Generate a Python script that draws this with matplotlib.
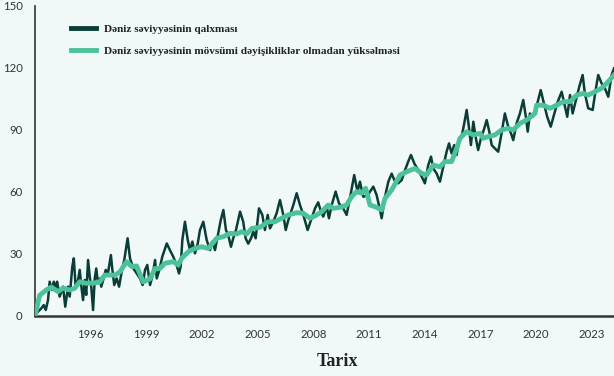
import matplotlib
matplotlib.use("Agg")
import matplotlib.pyplot as plt

# -------------------------- Data --------------------------
# sea level rise, mm (decimal year, value)
raw_years = [
    1993.00, 1993.07, 1993.34, 1993.47, 1993.58, 1993.70, 1993.79, 1993.92, 1994.01, 1994.12,
    1994.19, 1994.33, 1994.51, 1994.63, 1994.78, 1994.87, 1995.01, 1995.09, 1995.19, 1995.32,
    1995.41, 1995.49, 1995.59, 1995.68, 1995.76, 1995.86, 1995.95, 1996.03, 1996.13, 1996.22,
    1996.30, 1996.39, 1996.49, 1996.57, 1996.70, 1996.81, 1996.93, 1997.09, 1997.16, 1997.27,
    1997.40, 1997.53, 1997.67, 1997.81, 1997.99, 1998.12, 1998.30, 1998.48, 1998.66, 1998.80,
    1998.93, 1999.05, 1999.20, 1999.34, 1999.47, 1999.56, 1999.70, 1999.86, 2000.10, 2000.27,
    2000.45, 2000.63, 2000.76, 2000.85, 2000.94, 2001.08, 2001.23, 2001.35, 2001.48, 2001.62,
    2001.77, 2001.89, 2002.07, 2002.25, 2002.43, 2002.55, 2002.70, 2002.84, 2003.01, 2003.15,
    2003.29, 2003.41, 2003.56, 2003.68, 2003.83, 2004.05, 2004.22, 2004.35, 2004.49, 2004.64,
    2004.76, 2004.89, 2005.07, 2005.25, 2005.39, 2005.54, 2005.66, 2005.84, 2006.02, 2006.20,
    2006.38, 2006.51, 2006.65, 2006.92, 2007.10, 2007.28, 2007.46, 2007.69, 2007.87, 2008.09,
    2008.26, 2008.41, 2008.53, 2008.72, 2008.84, 2008.99, 2009.20, 2009.38, 2009.61, 2009.79,
    2009.97, 2010.20, 2010.38, 2010.51, 2010.69, 2010.93, 2011.23, 2011.41, 2011.59, 2011.68,
    2011.86, 2012.04, 2012.22, 2012.36, 2012.57, 2012.76, 2012.94, 2013.11, 2013.26, 2013.44,
    2013.65, 2013.84, 2014.01, 2014.19, 2014.34, 2014.46, 2014.64, 2014.82, 2015.00, 2015.18,
    2015.31, 2015.45, 2015.59, 2015.72, 2015.84, 2015.99, 2016.13, 2016.26, 2016.38, 2016.49,
    2016.62, 2016.74, 2016.88, 2017.03, 2017.21, 2017.34, 2017.48, 2017.61, 2017.78, 2017.96,
    2018.14, 2018.32, 2018.50, 2018.65, 2018.77, 2018.95, 2019.13, 2019.31, 2019.45, 2019.55,
    2019.67, 2019.82, 2020.00, 2020.25, 2020.42, 2020.60, 2020.79, 2020.96, 2021.14, 2021.38,
    2021.56, 2021.68, 2021.83, 2021.97, 2022.15, 2022.33, 2022.51, 2022.63, 2022.81, 2023.05,
    2023.21, 2023.35, 2023.53, 2023.71, 2023.89, 2024.07, 2024.20,
]
raw_values = [
    0.0, 1.3, 3.7, 5.3, 2.9, 7.7, 16.6, 12.6, 16.6, 13.4,
    16.6, 9.4, 14.2, 4.5, 14.2, 9.4, 23.9, 27.9, 14.2, 17.4,
    22.3, 15.0, 7.7, 17.4, 10.2, 27.1, 19.0, 14.2, 2.9, 18.2,
    23.0, 15.8, 18.2, 14.2, 18.2, 22.3, 20.6, 29.5, 23.0, 15.0,
    18.2, 14.2, 21.4, 27.1, 37.6, 27.9, 23.0, 20.6, 18.2, 15.0,
    22.3, 24.7, 15.0, 19.8, 27.1, 18.2, 22.3, 28.7, 35.1, 31.9,
    28.7, 24.7, 20.6, 24.0, 36.8, 45.6, 36.8, 31.9, 36.0, 30.3,
    35.1, 41.6, 45.6, 36.8, 31.9, 36.0, 31.9, 38.4, 46.4, 51.3,
    41.6, 39.2, 33.5, 37.6, 41.6, 50.5, 45.6, 37.6, 35.0, 37.6,
    40.8, 37.6, 52.1, 48.9, 41.6, 48.9, 42.4, 45.6, 49.7, 56.1,
    48.9, 41.6, 46.4, 53.7, 59.4, 53.7, 48.9, 41.6, 46.4, 52.1,
    55.0, 50.5, 48.1, 52.9, 47.3, 53.7, 60.2, 54.5, 52.1, 48.9,
    56.9, 68.2, 60.2, 65.0, 57.7, 58.5, 62.6, 58.5, 51.3, 47.3,
    57.7, 65.0, 68.9, 65.8, 64.2, 65.8, 70.6, 74.7, 77.9, 73.8,
    70.6, 67.4, 64.2, 73.0, 77.1, 71.4, 69.0, 65.0, 72.2, 79.5,
    83.5, 78.7, 82.7, 77.9, 84.3, 86.8, 93.2, 99.7, 91.6, 82.7,
    94.0, 86.8, 80.3, 86.0, 90.8, 94.8, 89.2, 82.7, 81.1, 79.5,
    88.4, 98.0, 91.6, 88.4, 85.1, 93.2, 98.0, 104.5, 96.4, 89.2,
    98.0, 96.4, 100.5, 109.3, 103.0, 96.4, 91.6, 97.2, 103.0, 108.5,
    101.3, 96.4, 106.9, 98.0, 104.5, 111.0, 116.6, 107.7, 100.5, 99.7,
    109.3, 116.6, 112.6, 110.2, 106.1, 116.6, 119.8,
]

# sea level rise without seasonal changes, mm
smooth_years = [
    1993.00, 1993.25, 1993.61, 1993.88, 1994.24, 1994.51, 1994.87, 1995.14, 1995.41, 1995.76,
    1996.22, 1996.49, 1996.76, 1997.31, 1997.58, 1997.94, 1998.21, 1998.48, 1998.83, 1999.20,
    1999.47, 1999.73, 2000.00, 2000.45, 2000.72, 2000.90, 2001.26, 2001.62, 2001.98, 2002.34,
    2002.79, 2003.15, 2003.51, 2003.87, 2004.14, 2004.41, 2004.69, 2005.12, 2005.57, 2005.93,
    2006.29, 2006.65, 2007.10, 2007.46, 2007.82, 2008.18, 2008.45, 2008.80, 2009.07, 2009.43,
    2009.79, 2010.06, 2010.33, 2010.60, 2010.82, 2011.05, 2011.41, 2011.68, 2011.86, 2012.22,
    2012.67, 2013.03, 2013.47, 2013.84, 2014.10, 2014.46, 2014.82, 2015.09, 2015.45, 2015.72,
    2015.90, 2016.26, 2016.62, 2016.98, 2017.15, 2017.42, 2017.78, 2018.14, 2018.50, 2018.77,
    2019.13, 2019.49, 2019.94, 2020.03, 2020.39, 2020.75, 2021.11, 2021.47, 2021.83, 2022.19,
    2022.55, 2022.81, 2023.17, 2023.53, 2023.89, 2024.20,
]
smooth_values = [
    0.0, 10.0, 12.6, 14.0, 11.8, 13.5, 12.6, 13.4, 16.6, 15.8,
    16.0, 16.6, 19.8, 19.8, 21.4, 26.3, 23.9, 24.2, 16.5, 18.0,
    23.0, 23.0, 25.5, 26.3, 24.7, 27.9, 31.1, 32.7, 33.5, 32.7,
    37.6, 38.4, 40.0, 39.7, 40.8, 39.7, 42.4, 42.9, 45.6, 45.6,
    47.3, 48.9, 50.0, 49.7, 47.3, 48.9, 50.5, 53.7, 52.1, 52.6,
    53.7, 57.7, 60.2, 59.4, 61.8, 53.7, 52.6, 51.3, 56.9, 61.0,
    68.2, 69.8, 71.4, 69.0, 68.2, 73.0, 72.2, 74.7, 74.7, 81.0,
    86.0, 89.2, 87.6, 88.4, 86.0, 86.8, 87.6, 90.0, 90.8, 90.0,
    93.2, 94.8, 98.0, 102.0, 102.0, 100.5, 102.0, 103.7, 103.7, 106.9,
    107.7, 106.9, 108.5, 110.2, 113.4, 116.6,
]

labels = ["Dəniz səviyyəsinin qalxması",
          "Dəniz səviyyəsinin mövsümi dəyişikliklər olmadan yüksəlməsi"]
x_ticks = [1996, 1999, 2002, 2005, 2008, 2011, 2014, 2017, 2020, 2023]
y_ticks = [0, 30, 60, 90, 120, 150]

# -------------------------- Style --------------------------
bg = "#f1f9f8"
dark = "#0a3d37"
green = "#4cc29a"
axis_col = "#333333"
serif = ["Liberation Serif", "DejaVu Serif"]

fig = plt.figure(figsize=(6.14, 3.76), dpi=100, facecolor=bg)
ax = fig.add_axes([35 / 614, 1 - 316 / 376, 1 - 35 / 614, 310 / 376])
ax.set_facecolor(bg)

ax.plot(raw_years, raw_values, color=dark, lw=1.8, zorder=2, label=labels[0])
ax.plot(smooth_years, smooth_values, color=green, lw=3.5, zorder=3,
        solid_joinstyle="round", label=labels[1])

ax.set_xlim(1993.0, 2024.2)
ax.set_ylim(0, 150)
ax.set_xticks(x_ticks)
ax.set_yticks(y_ticks)
ax.tick_params(length=0, labelsize=8.2, labelcolor=axis_col)
ax.tick_params(axis="x", pad=9.5)
ax.tick_params(axis="y", pad=9.0)
for t in ax.get_xticklabels() + ax.get_yticklabels():
    t.set_family("Lato")

for s in ["top", "right"]:
    ax.spines[s].set_visible(False)
ax.spines["left"].set_color(axis_col)
ax.spines["left"].set_linewidth(1.2)
ax.spines["bottom"].set_color(axis_col)
ax.spines["bottom"].set_linewidth(1.8)

ax.set_xlabel("Tarix", family=serif, fontweight="bold", fontsize=13, color="#222222")
ax.xaxis.set_label_coords((337 - 35) / (614 - 35), -(361 - 316) / 310)
ax.xaxis.label.set_va("center")

leg = ax.legend(loc="upper left", bbox_to_anchor=(26 / 579, 0.974), frameon=False,
                handlelength=2.2, handletextpad=0.75, labelspacing=1.05,
                prop={"family": serif, "weight": "bold", "size": 8.1})
for h in leg.legend_handles:
    h.set_linewidth(3.5)
for t in leg.get_texts():
    t.set_color("#222222")

fig.savefig("out.png", dpi=100, facecolor=bg)
